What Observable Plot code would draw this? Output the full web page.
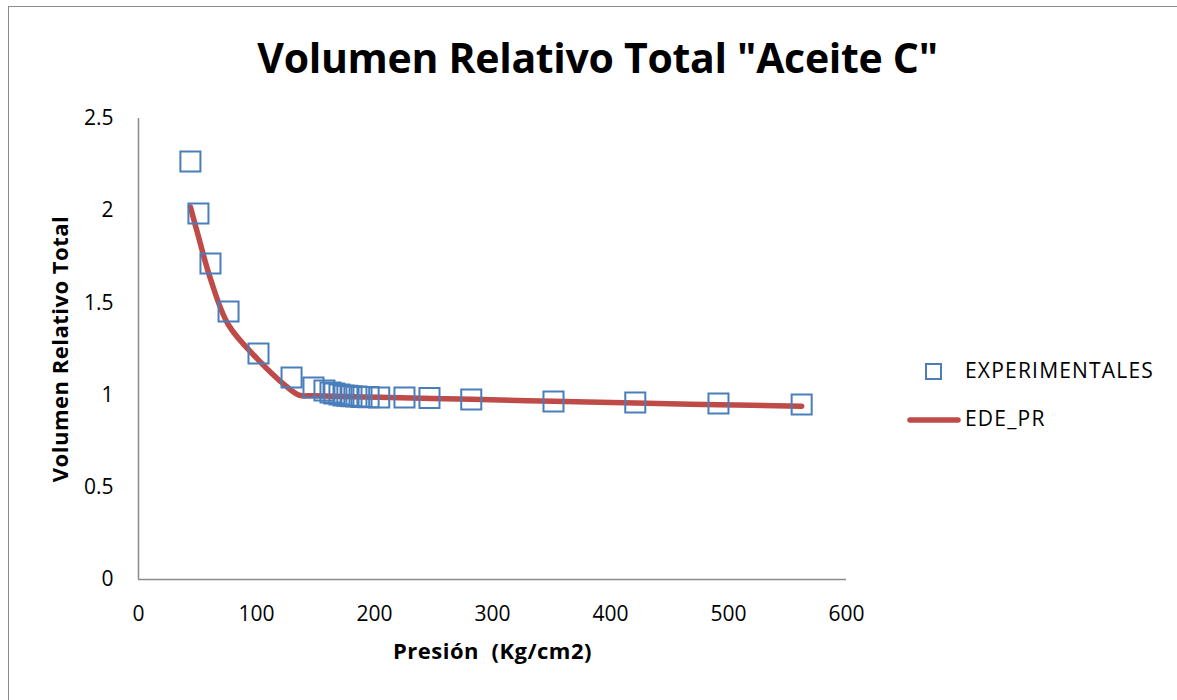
<!DOCTYPE html>
<html>
<head>
<meta charset="utf-8">
<script src="https://cdn.jsdelivr.net/npm/d3@7"></script>
<script src="https://cdn.jsdelivr.net/npm/@observablehq/plot@0.6"></script>
<style>
  html, body { margin: 0; padding: 0; background: #fff; overflow: hidden; }
  #wrap { position: relative; width: 1177px; height: 700px; font-family: "Open Sans", sans-serif; }
  #frame { position: absolute; left: 8px; top: 6px; width: 1300px; height: 900px; border: 1px solid #8c8c8c; }
  #title { position: absolute; left: 0; width: 1195px; top: 29px; text-align: center; font-weight: bold; font-size: 41px; color: #000; letter-spacing: -0.3px; }
  #chart { position: absolute; left: 0; top: 0; }
  .leg { position: absolute; font-size: 21px; color: #000; letter-spacing: 1.2px; }
</style>
</head>
<body>
<div id="wrap">
  <div id="frame"></div>
  <div id="chart"></div>
  <div id="title">Volumen Relativo Total "Aceite C"</div>
  <div id="legend"></div>
</div>
<script>
// Experimental data (Presión, Volumen Relativo Total)
const expPressure = [44, 50.8, 61, 76.3, 101.7, 129.7, 148.3, 157.6, 162.7, 166, 170.3, 173.7, 177, 180.5, 184.7, 189, 195, 204, 225.4, 246.6, 282, 351.7, 421, 491.5, 562];
const expVolume   = [2.267, 1.985, 1.714, 1.453, 1.225, 1.095, 1.041, 1.025, 1.014, 1.009, 1.003, 0.998, 0.996, 0.994, 0.992, 0.99, 0.989, 0.987, 0.987, 0.984, 0.976, 0.965, 0.96, 0.954, 0.949];
// EDE_PR model curve
const edePressure = [44, 50.8, 61, 76.3, 101.7, 123, 136, 148.3, 204, 282, 351.7, 421, 491.5, 562];
const edeVolume   = [2.02, 1.86, 1.63, 1.38, 1.19, 1.06, 1.0, 0.997, 0.988, 0.977, 0.966, 0.957, 0.948, 0.94];

const xTicks = [0, 100, 200, 300, 400, 500, 600];
const yTicks = [0, 0.5, 1, 1.5, 2, 2.5];

const seriesNames = ["EXPERIMENTALES", "EDE_PR"];
const blue = "#4a7ebb";
const red = "#be4b48";

const expData = expPressure.map((p, i) => ({p, v: expVolume[i]}));
const edeData = edePressure.map((p, i) => ({p, v: edeVolume[i]}));

const chart = Plot.plot({
  width: 1177,
  height: 700,
  marginLeft: 138,
  marginRight: 331,
  marginTop: 118,
  marginBottom: 121,
  style: {fontFamily: "Open Sans, sans-serif", fontSize: "21px", background: "transparent", overflow: "visible"},
  x: {domain: [0, 600], label: null},
  y: {domain: [0, 2.5], label: null},
  marks: [
    Plot.ruleX([0], {stroke: "#8c8c8c", strokeWidth: 1.5}),
    Plot.ruleY([0], {stroke: "#8c8c8c", strokeWidth: 1.5}),
    Plot.line(edeData, {x: "p", y: "v", stroke: red, strokeWidth: 5.5, curve: "catmull-rom", strokeLinecap: "round", strokeLinejoin: "round"}),
    Plot.dot(expData, {x: "p", y: "v", symbol: "square", r: 11.3, stroke: blue, strokeWidth: 2, fill: "none"}),
    Plot.axisX({ticks: xTicks, tickSize: 0, tickPadding: 27, tickFormat: d => String(d), fill: "#000", fontSize: 21, label: null}),
    Plot.axisY({ticks: yTicks, tickSize: 0, tickPadding: 25, tickFormat: d => String(d), fill: "#000", fontSize: 21, label: null}),
    Plot.text(["Presión  (Kg/cm2)"], {frameAnchor: "bottom", dy: 79, textAnchor: "middle", fontWeight: "bold", fontSize: 22, fill: "#000", style: "letter-spacing:0.6px"}),
    Plot.text(["Volumen Relativo Total"], {frameAnchor: "left", dx: -78, textAnchor: "middle", rotate: -90, fontWeight: "bold", fontSize: 22, fill: "#000"})
  ]
});
chart.querySelectorAll("text").forEach(t => {
  if (t.textContent.startsWith("Presión") || t.textContent.startsWith("Volumen")) t.setAttribute("letter-spacing", "0.5");
});
document.getElementById("chart").appendChild(chart);

// Legend (HTML)
const legend = document.getElementById("legend");
legend.innerHTML = `
  <svg class="leg" style="left:900px; top:355px;" width="70" height="80">
    <rect x="26" y="9" width="15" height="15" fill="none" stroke="${blue}" stroke-width="2"/>
    <line x1="10" y1="65" x2="58" y2="65" stroke="${red}" stroke-width="5.5" stroke-linecap="round"/>
  </svg>
  <div class="leg" style="left:965px; top:356px;">${seriesNames[0]}</div>
  <div class="leg" style="left:965px; top:404px;">${seriesNames[1]}</div>
`;
</script>
</body>
</html>
